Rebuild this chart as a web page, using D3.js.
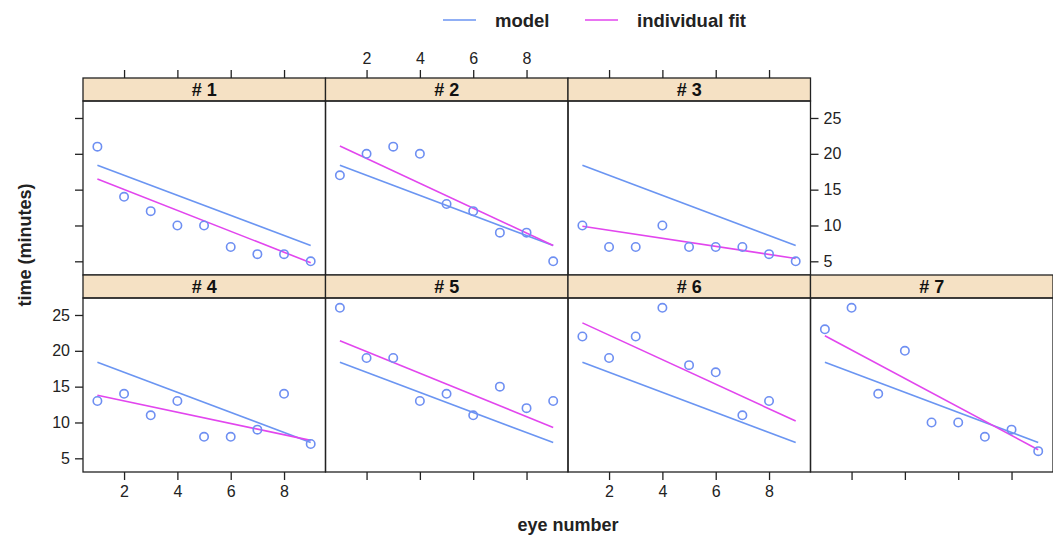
<!DOCTYPE html>
<html>
<head>
<meta charset="utf-8">
<script src="https://cdn.jsdelivr.net/npm/d3@7"></script>
<style>
  body { margin: 0; background: #fff; }
  svg { display: block; font-family: "Liberation Sans", Arial, sans-serif; }
</style>
</head>
<body>
<svg id="chart" width="1053" height="535"></svg>
<script>
// eye number 1..9, time (minutes) per subject
var eyes = [1, 2, 3, 4, 5, 6, 7, 8, 9];
var subjects = ['# 1', '# 2', '# 3', '# 4', '# 5', '# 6', '# 7'];
var times = [
    [21, 14, 12, 10, 10, 7, 6, 6, 5],
    [17, 20, 21, 20, 13, 12, 9, 9, 5],
    [10, 7, 7, 10, 7, 7, 7, 6, 5],
    [13, 14, 11, 13, 8, 8, 9, 14, 7],
    [26, 19, 19, 13, 14, 11, 15, 12, 13],
    [22, 19, 22, 26, 18, 17, 11, 13, null],
    [23, 26, 14, 20, 10, 10, 8, 9, 6]
];
// fitted lines: value at eye 1 and eye 9
var modelLine = [18.4, 7.2];
var fitStart = [16.5, 21.1, 9.9, 13.8, 21.4, 23.9, 22.1];
var fitEnd = [4.8, 7.2, 5.4, 7.5, 9.3, 10.2, 6.2];
var xTicks = [2, 4, 6, 8];
var yTicks = [5, 10, 15, 20, 25];

var modelColor = '#6b95f2';
var fitColor = '#e246ee';
var pointColor = '#6e8ff2';
var stripColor = '#f5e1c4';

var left = 83, top0 = 78, panelW = 242.5, stripH = 23, panelH = 174, tickLen = 8;

var svg = d3.select('#chart');

var x = d3.scaleLinear().domain([0.46, 9.555]).range([0, panelW]);
var y = d3.scaleLinear().domain([3.09, 27.37]).range([panelH, 0]);

// top row holds # 1..# 3, bottom row # 4..# 7
function panelPos(i) {
    if (i < 3) return { col: i, row: 0 };
    return { col: i - 3, row: 1 };
}

subjects.forEach(function(name, i) {
    var p = panelPos(i);
    var gx = left + p.col * panelW;
    var gy = top0 + p.row * (stripH + panelH);
    var g = svg.append('g').attr('transform', 'translate(' + gx + ',' + gy + ')');

    // strip
    g.append('rect')
        .attr('width', panelW).attr('height', stripH)
        .attr('fill', stripColor).attr('stroke', '#222').attr('stroke-width', 1.3);
    g.append('text')
        .attr('x', panelW / 2).attr('y', stripH / 2 + 6.5)
        .attr('text-anchor', 'middle')
        .attr('font-size', 18).attr('font-weight', 'bold').attr('fill', '#111')
        .text(name);

    var pg = g.append('g').attr('transform', 'translate(0,' + stripH + ')');
    pg.append('rect')
        .attr('width', panelW).attr('height', panelH)
        .attr('fill', 'none').attr('stroke', '#222').attr('stroke-width', 1.3);

    // model line
    pg.append('line')
        .attr('x1', x(eyes[0])).attr('y1', y(modelLine[0]))
        .attr('x2', x(eyes[eyes.length - 1])).attr('y2', y(modelLine[1]))
        .attr('stroke', modelColor).attr('stroke-width', 1.6);
    // individual fit
    pg.append('line')
        .attr('x1', x(eyes[0])).attr('y1', y(fitStart[i]))
        .attr('x2', x(eyes[eyes.length - 1])).attr('y2', y(fitEnd[i]))
        .attr('stroke', fitColor).attr('stroke-width', 1.6);

    var pts = eyes.map(function(e, j) { return { e: e, t: times[i][j] }; })
        .filter(function(d) { return d.t != null; });
    pg.selectAll('circle.pt').data(pts).enter().append('circle')
        .attr('class', 'pt')
        .attr('cx', function(d) { return x(d.e); })
        .attr('cy', function(d) { return y(d.t); })
        .attr('r', 4.2)
        .attr('fill', 'none').attr('stroke', pointColor).attr('stroke-width', 1.6);

    // axes, alternating like lattice
    var showBottomLabels = p.row === 1 && (p.col === 0 || p.col === 2);
    var showTopLabels = p.row === 0 && p.col === 1;
    if (p.row === 1) {
        var ax = d3.axisBottom(x).tickValues(xTicks).tickSize(tickLen).tickPadding(6)
            .tickFormat(showBottomLabels ? d3.format('d') : '');
        pg.append('g').attr('class', 'axis').attr('transform', 'translate(0,' + panelH + ')').call(ax);
    }
    if (p.row === 0) {
        var axt = d3.axisTop(x).tickValues(xTicks).tickSize(tickLen).tickPadding(6)
            .tickFormat(showTopLabels ? d3.format('d') : '');
        g.append('g').attr('class', 'axis').call(axt);
    }
    if (p.col === 0) {
        var ay = d3.axisLeft(y).tickValues(yTicks).tickSize(tickLen).tickPadding(5)
            .tickFormat(p.row === 1 ? d3.format('d') : '');
        pg.append('g').attr('class', 'axis').call(ay);
    }
    if (p.row === 0 && p.col === 2) {
        var ayr = d3.axisRight(y).tickValues(yTicks).tickSize(tickLen).tickPadding(5)
            .tickFormat(d3.format('d'));
        pg.append('g').attr('class', 'axis').attr('transform', 'translate(' + panelW + ',0)').call(ayr);
    }
});

svg.selectAll('.axis .domain').remove();
svg.selectAll('.axis line').attr('stroke', '#222').attr('stroke-width', 1.3);
svg.selectAll('.axis text').attr('font-size', 16).attr('fill', '#222')
    .attr('font-family', '"Liberation Sans", Arial, sans-serif');

// axis titles
svg.append('text')
    .attr('transform', 'translate(31,245) rotate(-90)')
    .attr('text-anchor', 'middle')
    .attr('font-size', 18).attr('font-weight', 'bold').attr('fill', '#222')
    .text('time (minutes)');
svg.append('text')
    .attr('x', 568).attr('y', 531)
    .attr('text-anchor', 'middle')
    .attr('font-size', 18).attr('font-weight', 'bold').attr('fill', '#222')
    .text('eye number');

// legend
var legendItems = [
    { label: 'model', color: modelColor, x: 443 },
    { label: 'individual fit', color: fitColor, x: 585 }
];
var lg = svg.append('g');
legendItems.forEach(function(item) {
    lg.append('line')
        .attr('x1', item.x).attr('x2', item.x + 33)
        .attr('y1', 20).attr('y2', 20)
        .attr('stroke', item.color).attr('stroke-width', 1.6);
    lg.append('text')
        .attr('x', item.x + 52).attr('y', 26.5)
        .attr('font-size', 18.5).attr('font-weight', 'bold').attr('fill', '#222')
        .text(item.label);
});
</script>
</body>
</html>
